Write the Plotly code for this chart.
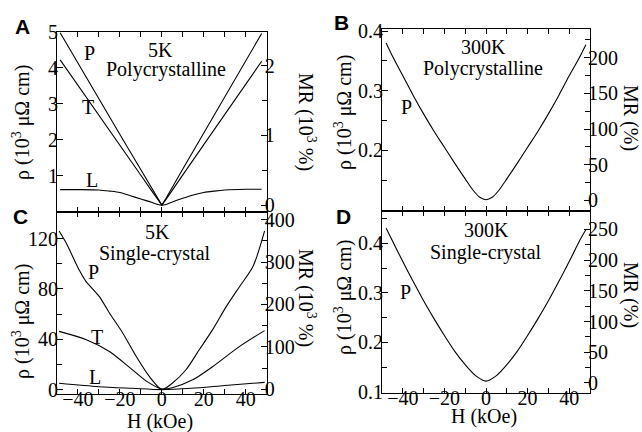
import plotly.graph_objects as go

# ---------------- data ----------------
# Panel A: 5K polycrystalline
H_A = [-48.5, -40, -30, -20, -10, -5, -2, 0, 2, 5, 10, 20, 30, 40, 47.6]
rhoA_P = [4.97, 4.12, 3.13, 2.15, 1.17, 0.68, 0.38, 0.19, 0.38, 0.69, 1.19, 2.19, 3.19, 4.19, 4.95]
rhoA_T = [4.22, 3.52, 2.68, 1.85, 1.02, 0.60, 0.35, 0.19, 0.35, 0.61, 1.03, 1.87, 2.71, 3.55, 4.18]
H_AL = [-48.5, -40, -30, -25, -20, -15, -10, -5, -2, 0, 2, 5, 10, 15, 20, 25, 30, 40, 47.6]
rhoA_L = [0.62, 0.62, 0.61, 0.58, 0.54, 0.45, 0.36, 0.27, 0.21, 0.19, 0.21, 0.28, 0.38, 0.47, 0.54, 0.58, 0.61, 0.63, 0.63]

# Panel B: 300K polycrystalline
H_B = [-48, -45, -40, -35, -30, -25, -20, -15, -10, -6, -3, 0, 3, 6, 10, 15, 20, 25, 30, 35, 40, 45, 48]
rhoB_P = [0.380, 0.358, 0.325, 0.292, 0.261, 0.232, 0.205, 0.178, 0.152, 0.132, 0.121, 0.117,
          0.121, 0.132, 0.152, 0.178, 0.205, 0.232, 0.261, 0.292, 0.325, 0.356, 0.377]

# Panel C: 5K single-crystal
H_CP = [-49, -45.8, -39.4, -36.2, -29.8, -25, -18.6, -12.2, -5.9, 0, 5.1, 11.5, 17.9, 24.3, 30.7, 37.1, 43.5, 49]
rhoC_P = [126, 117, 95, 86, 74, 61, 45, 26.5, 10.6, 0.5, 5.5, 16, 32, 48, 66, 82, 98, 126]
H_CT = [-49, -36, -25, -15, -7, 0, 5, 14.7, 24.3, 37.1, 49]
rhoC_T = [46.4, 39.8, 30.5, 17.3, 6.6, 0.8, 1.8, 8, 18.6, 34.5, 47]
H_CL = [-49, -30, -14, 0, 14, 30, 49]
rhoC_L = [5.3, 2.6, 1.3, 0.3, 1.3, 3.5, 6.0]

# Panel D: 300K single-crystal
H_D = [-48, -45, -40, -35, -30, -25, -20, -15, -10, -5, 0, 5, 10, 15, 20, 25, 30, 35, 40, 45, 48]
rhoD_P = [0.430, 0.405, 0.363, 0.323, 0.284, 0.248, 0.214, 0.182, 0.155, 0.133, 0.122,
          0.133, 0.155, 0.182, 0.214, 0.248, 0.284, 0.323, 0.363, 0.405, 0.427]

# tick labels
x_ticks = [-40, -20, 0, 20, 40]
x_minor = [-30, -10, 10, 30]
yA_ticks, yA_minor = [1, 2, 3, 4, 5], []
mrA_ticks, mrA_minor = [0, 1, 2], [0.5, 1.5]
yB_ticks, yB_minor = [0.2, 0.3, 0.4], [0.15, 0.25, 0.35]
mrB_ticks, mrB_minor = [0, 50, 100, 150, 200], [25, 75, 125, 175, 225]
yC_ticks, yC_minor = [0, 40, 80, 120], [20, 60, 100]
mrC_ticks, mrC_minor = [0, 100, 200, 300, 400], [50, 150, 250, 350]
yD_ticks, yD_minor = [0.1, 0.2, 0.3, 0.4], [0.15, 0.25, 0.35, 0.45]
mrD_ticks, mrD_minor = [0, 50, 100, 150, 200, 250], [25, 75, 125, 175, 225]

# ---------------- figure ----------------
W, Hh = 642, 432
FONT = "Liberation Serif"

def px(x):
    return x / W

def py(y):
    return 1 - y / Hh

fig = go.Figure()

def add(x, y, xa, ya, shape="linear"):
    fig.add_trace(go.Scatter(x=x, y=y, mode="lines", xaxis=xa, yaxis=ya,
                             line=dict(color="black", width=1.1, shape=shape, smoothing=0.8),
                             hoverinfo="skip", showlegend=False))

add(H_A, rhoA_P, "x", "y")
add(H_A, rhoA_T, "x", "y")
add(H_AL, rhoA_L, "x", "y", "spline")
add(H_B, rhoB_P, "x2", "y2", "spline")
add(H_CP, rhoC_P, "x3", "y3", "spline")
add(H_CT, rhoC_T, "x3", "y3", "spline")
add(H_CL, rhoC_L, "x3", "y3", "spline")
add(H_D, rhoD_P, "x4", "y4", "spline")
# empty traces to attach the MR axes
for xa, ya in [("x", "y5"), ("x2", "y6"), ("x3", "y7"), ("x4", "y8")]:
    fig.add_trace(go.Scatter(x=[], y=[], xaxis=xa, yaxis=ya, showlegend=False, hoverinfo="skip"))

tickfont = dict(family=FONT, size=20, color="black")

def xax(domain, anchor, labels):
    return dict(domain=domain, anchor=anchor, range=[-50, 50], showline=True, linecolor="black",
                linewidth=1, mirror="ticks", ticks="inside", ticklen=5, tickcolor="black",
                tickvals=x_ticks, showticklabels=labels, tickfont=tickfont, showgrid=False,
                zeroline=False, automargin=False, ticklabelstandoff=-13,
                minor=dict(tickvals=x_minor, ticks="inside", ticklen=5, tickcolor="black"))

def yax(domain, anchor, rng, tv, mv):
    return dict(domain=domain, anchor=anchor, range=rng, showline=True, linecolor="black",
                linewidth=1, ticks="inside", ticklen=6, tickcolor="black", tickvals=tv,
                tickfont=tickfont, showgrid=False, zeroline=False, ticklabelstandoff=-6,
                automargin=False,
                minor=dict(tickvals=mv, ticks="inside", ticklen=5, tickcolor="black"))

def yrax(over, anchor, rng, tv, mv):
    return dict(overlaying=over, anchor=anchor, side="right", range=rng, showline=True,
                linecolor="black", linewidth=1, ticks="inside", ticklen=6, tickcolor="black",
                tickvals=tv, tickfont=tickfont, showgrid=False, zeroline=False,
                ticklabelstandoff=-7, automargin=False,
                minor=dict(tickvals=mv, ticks="inside", ticklen=5, tickcolor="black"))

xl = [px(57), px(266.7)]
xr = [px(382), px(590)]
dA = [py(212), py(31.7)]
dC = [py(394), py(212)]
dB = [py(211), py(29.3)]
dD = [py(393), py(211)]

fig.update_layout(
    template="none",
    width=W, height=Hh, margin=dict(l=0, r=0, t=0, b=0, pad=0, autoexpand=False),
    paper_bgcolor="white", plot_bgcolor="white", showlegend=False,
    font=dict(family=FONT, size=20, color="black"),
    xaxis=xax(xl, "y", False),
    xaxis2=xax(xr, "y2", False),
    xaxis3=xax(xl, "y3", True),
    xaxis4=xax(xr, "y4", True),
    yaxis=yax(dA, "x", [0, 5], yA_ticks, yA_minor),
    yaxis2=yax(dB, "x2", [0.098, 0.403], yB_ticks, yB_minor),
    yaxis3=yax(dC, "x3", [-3.2, 141], yC_ticks, yC_minor),
    yaxis4=yax(dD, "x4", [0.098, 0.465], yD_ticks, yD_minor),
    yaxis5=yrax("y", "x", [-0.1, 2.49], mrA_ticks, mrA_minor),
    yaxis6=yrax("y2", "x2", [-15, 240], mrB_ticks, mrB_minor),
    yaxis7=yrax("y3", "x3", [-11, 418], mrC_ticks, mrC_minor),
    yaxis8=yrax("y4", "x4", [-16.3, 280], mrD_ticks, mrD_minor),
)

def ann(text, x, y, size=20, angle=0, family=FONT, bold=False):
    if bold:
        text = "<b>" + text + "</b>"
    fig.add_annotation(text=text, x=px(x), y=py(y), xref="paper", yref="paper",
                       xanchor="center", yanchor="middle", showarrow=False, textangle=angle,
                       font=dict(family=family, size=size, color="black"))

# panel letters
for t, x, y in [("A", 23, 26), ("B", 341, 22), ("C", 20.5, 217), ("D", 343, 217)]:
    ann(t, x, y, size=21, family="Liberation Sans", bold=True)

rho_title = "ρ (10<sup>3</sup> μΩ cm)"
ann(rho_title, 21, 123, angle=-90)
ann(rho_title, 21, 322, angle=-90)
ann(rho_title, 343, 113, angle=-90)
ann(rho_title, 343, 298, angle=-90)
ann("MR (10<sup>3</sup> %)", 307, 122, angle=90)
ann("MR (10<sup>3</sup> %)", 307, 298, angle=90)
ann("MR (%)", 631, 118, angle=90)
ann("MR (%)", 631, 295, angle=90)
ann("H (kOe)", 160, 421)
ann("H (kOe)", 484, 416)

# in-panel texts
ann("5K", 160, 50)
ann("Polycrystalline", 166, 70)
ann("P", 90, 53); ann("T", 88, 107); ann("L", 92, 180)
ann("300K", 483, 47)
ann("Polycrystalline", 483, 68)
ann("P", 406, 107)
ann("5K", 157, 232)
ann("Single-crystal", 155, 253)
ann("P", 94, 272); ann("T", 97, 337); ann("L", 95, 377)
ann("300K", 486, 230)
ann("Single-crystal", 486, 252)
ann("P", 405, 292)

fig.write_html("out.html", config={"displayModeBar": False},
               post_script="document.body.style.margin='0';document.body.style.overflow='hidden';")
